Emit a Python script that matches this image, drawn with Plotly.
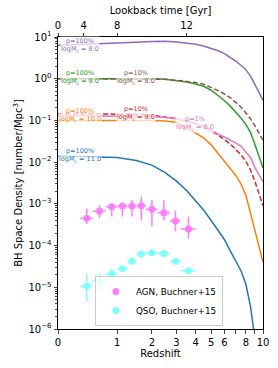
import numpy as np
import plotly.graph_objects as go

# ---------------- data ----------------
z_grid = [0, 0.5, 1, 1.5, 2, 2.5, 3, 3.5, 4, 4.5, 5, 5.5, 6, 6.5, 7, 7.5, 8, 8.5, 9, 9.5, 10]

purple_p100_m8 = [6.3, 6.7, 7.1, 7.5, 7.8, 7.9, 7.6, 7.2, 6.7, 6.1, 5.4, 4.7, 4.0, 3.3, 2.65, 2.1, 1.65, 1.15, 0.75, 0.47, 0.3]
green_p100_m9 = [1.0, 1.0, 1.02, 1.02, 1.0, 0.97, 0.9, 0.83, 0.75, 0.66, 0.53, 0.40, 0.30, 0.22, 0.16, 0.115, 0.08, 0.052, 0.027, 0.014, 0.0072]
brown_p10_m8 = [1.0, 1.0, 1.01, 1.01, 1.0, 0.97, 0.92, 0.87, 0.81, 0.74, 0.63, 0.52, 0.43, 0.35, 0.27, 0.21, 0.15, 0.11, 0.075, 0.05, 0.033]
orange_p100_m10 = [0.1, 0.101, 0.102, 0.102, 0.1, 0.097, 0.09, 0.066, 0.05, 0.038, 0.026, 0.016, 0.0105, 0.007, 0.0048, 0.003, 0.0016, 0.0006, 0.00022, 0.00009, 0.00004]
red_p10_m9 = [0.145, 0.144, 0.143, 0.14, 0.133, 0.122, 0.11, 0.097, 0.085, 0.07, 0.057, 0.045, 0.034, 0.027, 0.02, 0.015, 0.0105, 0.0065, 0.0035, 0.0018, 0.0009]
pink_p1_m8 = [0.13, 0.13, 0.13, 0.128, 0.125, 0.118, 0.11, 0.098, 0.085, 0.072, 0.059, 0.047, 0.04, 0.034, 0.029, 0.024, 0.018, 0.013, 0.0075, 0.0052, 0.0034]
z_blue = [0, 0.5, 1, 1.5, 2, 2.5, 3, 3.5, 4, 4.5, 5, 5.5, 6, 6.5, 7, 7.5, 8, 8.5, 9]
blue_p100_m11 = [0.014, 0.0137, 0.013, 0.011, 0.0085, 0.0056, 0.0035, 0.0021, 0.0012, 0.0007, 0.0004, 0.00023, 0.00014, 0.000075, 0.000043, 0.000025, 0.000012, 0.0000035, 0.0000006]

# Buchner+15 points
z_obs = [0.4, 0.625, 0.875, 1.125, 1.375, 1.65, 2.0, 2.45, 2.95, 3.6]
z_obs_lo = [0.3, 0.5, 0.75, 1.0, 1.25, 1.5, 1.8, 2.2, 2.7, 3.2]
z_obs_hi = [0.5, 0.75, 1.0, 1.25, 1.5, 1.8, 2.2, 2.7, 3.2, 4.0]
agn = [4.5e-4, 6.7e-4, 8.5e-4, 8.9e-4, 8.9e-4, 9.0e-4, 7.4e-4, 6.1e-4, 3.9e-4, 2.5e-4]
agn_hi = [7.7e-4, 9.3e-4, 1.0e-3, 1.05e-3, 1.24e-3, 1.47e-3, 1.24e-3, 1.24e-3, 6.9e-4, 4.9e-4]
agn_lo = [3.3e-4, 4.6e-4, 5.0e-4, 5.0e-4, 5.0e-4, 4.0e-4, 2.9e-4, 4.0e-4, 2.2e-4, 1.5e-4]
qso = [1.07e-5, 1.43e-5, 2.07e-5, 2.78e-5, 4.18e-5, 6.25e-5, 6.7e-5, 6.5e-5, 4.2e-5, 2.49e-5]
qso_hi = [2.1e-5, 2.2e-5, 2.8e-5, 3.3e-5, 4.8e-5, 7.0e-5, 7.4e-5, 7.2e-5, 4.7e-5, 2.8e-5]
qso_lo = [4.5e-6, 7.0e-6, 1.5e-5, 2.4e-5, 3.7e-5, 5.6e-5, 6.1e-5, 5.9e-5, 3.8e-5, 2.2e-5]

z_ticks = [0, 1, 2, 3, 4, 5, 6, 7, 8, 9, 10]
z_tick_labels = ["0", "1", "2", "3", "4", "5", "6", "", "8", "", "10"]
lookback_z = [0, 0.35, 1.0, 3.5]
lookback_labels = ["0", "4", "8", "12"]

FONT = "DejaVu Sans"


def u(z):
    return np.log10(1.0 + np.asarray(z, dtype=float))


fig = go.Figure()

curves = [
    (z_blue, blue_p100_m11, "#1f77b4", "solid"),
    (z_grid, orange_p100_m10, "#ff7f0e", "solid"),
    (z_grid, green_p100_m9, "#2ca02c", "solid"),
    (z_grid, purple_p100_m8, "#9467bd", "solid"),
    (z_grid, red_p10_m9, "#d62728", "5px,2.5px"),
    (z_grid, brown_p10_m8, "#8c564b", "5px,2.5px"),
    (z_grid, pink_p1_m8, "#e377c2", "solid"),
]
for zz, vv, col, dash in curves:
    fig.add_trace(go.Scatter(x=u(zz), y=vv, mode="lines",
                             line=dict(color=col, width=1.5, dash=dash),
                             showlegend=False, hoverinfo="skip"))

ux = u(z_obs)
ex_plus = u(z_obs_hi) - ux
ex_minus = ux - u(z_obs_lo)

for name, vals, hi, lo, col in [
    ("AGN, Buchner+15", agn, agn_hi, agn_lo, "#ff00ff"),
    ("QSO, Buchner+15", qso, qso_hi, qso_lo, "#00ffff"),
]:
    v = np.array(vals)
    fig.add_trace(go.Scatter(
        x=ux, y=v, mode="markers", name=name, opacity=0.5,
        marker=dict(color=col, size=7, symbol="circle"),
        error_y=dict(type="data", symmetric=False, array=np.array(hi) - v,
                     arrayminus=v - np.array(lo), color=col, thickness=1.5, width=0),
        error_x=dict(type="data", symmetric=False, array=ex_plus, arrayminus=ex_minus,
                     color=col, thickness=1.5, width=0),
    ))

# invisible trace for top axis
fig.add_trace(go.Scatter(x=u(lookback_z), y=[1] * len(lookback_z), xaxis="x2", mode="markers",
                         marker=dict(opacity=0), showlegend=False, hoverinfo="skip"))

labels = [
    ("p=100%", "logM<sub>c</sub> = 8.0", "#9467bd", 0.112, 0.808),
    ("p=100%", "logM<sub>c</sub> = 9.0", "#2ca02c", 0.112, 0.035),
    ("p=10%", "logM<sub>c</sub> = 8.0", "#8c564b", 0.398, 0.032),
    ("p=100%", "logM<sub>c</sub> = 10.0", "#ff7f0e", 0.112, -0.870),
    ("p=10%", "logM<sub>c</sub> = 9.0", "#d62728", 0.398, -0.822),
    ("p=1%", "logM<sub>c</sub> = 8.0", "#e377c2", 0.695, -1.062),
    ("p=100%", "logM<sub>c</sub> = 11.0", "#1f77b4", 0.112, -1.830),
]
ann = []
for t1, t2, col, xx, yy in labels:
    ann.append(dict(x=xx, y=yy, xref="x", yref="y", text=t1 + "<br>" + t2, showarrow=False,
                    font=dict(family=FONT, size=6.5, color=col),
                    bgcolor="rgba(255,255,255,0.7)", borderpad=0,
                    xanchor="center", yanchor="middle"))

ylog_ticks = [1e-6, 1e-5, 1e-4, 1e-3, 1e-2, 1e-1, 1e0, 1e1]
ylog_text = ["10<sup>−6</sup>", "10<sup>−5</sup>", "10<sup>−4</sup>", "10<sup>−3</sup>",
             "10<sup>−2</sup>", "10<sup>−1</sup>", "10<sup>0</sup>", "10<sup>1</sup>"]
minor_y = [m * 10.0 ** k for k in range(-6, 1) for m in range(2, 10)]

fig.update_layout(
    width=278, height=368,
    margin=dict(l=58, r=15, t=37, b=39),
    paper_bgcolor="white", plot_bgcolor="white",
    font=dict(family=FONT, size=10, color="black"),
    annotations=ann,
    xaxis=dict(range=[0, float(u(10))], tickvals=u(z_ticks), ticktext=z_tick_labels,
               ticks="outside", ticklen=3.5, tickwidth=0.8, showgrid=False, zeroline=False,
               showline=True, linecolor="black", linewidth=1, mirror=False, automargin=False,
               title=dict(text="Redshift", standoff=3, font=dict(size=10)),
               tickfont=dict(size=10)),
    xaxis2=dict(range=[0, float(u(10))], overlaying="x", side="top", anchor="y",
                tickvals=u(lookback_z), ticktext=lookback_labels, automargin=False,
                ticks="outside", ticklen=3.5, tickwidth=0.8, showgrid=False, zeroline=False,
                showline=True, linecolor="black", linewidth=1,
                title=dict(text="Lookback time [Gyr]", standoff=3, font=dict(size=10)),
                tickfont=dict(size=10)),
    yaxis=dict(type="log", range=[-6, 1], tickvals=ylog_ticks, ticktext=ylog_text,
               ticks="outside", ticklen=3.5, tickwidth=0.8, showgrid=False, zeroline=False,
               showline=True, linecolor="black", linewidth=1, mirror=True, automargin=False,
               minor=dict(tickvals=minor_y, ticks="outside", ticklen=2, tickwidth=0.6,
                          showgrid=False),
               title=dict(text="BH Space Density [number/Mpc<sup>3</sup>]", standoff=3,
                          font=dict(size=10)),
               tickfont=dict(size=10)),
    legend=dict(x=0.18, y=0.01, xanchor="left", yanchor="bottom",
                bgcolor="rgba(255,255,255,0.8)", bordercolor="#cccccc", borderwidth=1,
                font=dict(family=FONT, size=8.8), tracegroupgap=0, itemwidth=30),
)

fig.write_html("out.html", config={"displayModeBar": False},
               post_script="document.body.style.margin='0px';document.body.style.padding='0px';")
